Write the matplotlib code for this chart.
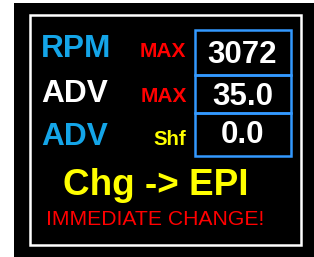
import matplotlib.pyplot as plt
from matplotlib.patches import Rectangle

# panel contents
labels = ["RPM", "ADV", "ADV"]
label_colors = ["#14a5e8", "#ffffff", "#14a5e8"]
tags = ["MAX", "MAX", "Shf"]
tag_colors = ["#ff0000", "#ff0000", "#ffff00"]
values = ["3072", "35.0", "0.0"]
status = "Chg -> EPI"
message = "IMMEDIATE CHANGE!"

plt.rcParams['font.family'] = ['Liberation Sans', 'DejaVu Sans']

fig = plt.figure(figsize=(3.14, 2.57), dpi=100)
ax = fig.add_axes([0, 0, 1, 1])
ax.set_xlim(0, 314)
ax.set_ylim(257, 0)
ax.axis('off')

# background and white frame
ax.add_patch(Rectangle((14, 3), 300, 254, facecolor='black', edgecolor='none'))
ax.add_patch(Rectangle((30, 15), 271, 230, facecolor='none', edgecolor='white', lw=1.8))

# value boxes
rows = [(30, 75), (75, 113), (113, 156)]
for top, bot in rows:
    ax.add_patch(Rectangle((195, top), 96, bot - top, facecolor='none',
                           edgecolor='#3399ff', lw=1.8))

label_base = [57, 102, 145]
tag_base = [57, 102, 145]
value_base = [63, 105, 143]
tag_x = [186, 187, 186]
tag_size = [15, 15, 14.6]
for i in range(3):
    ax.text(41, label_base[i], labels[i], color=label_colors[i], fontsize=22.8,
            fontweight='bold', ha='left', va='baseline')
    ax.text(tag_x[i], tag_base[i], tags[i], color=tag_colors[i], fontsize=tag_size[i],
            fontweight='bold', ha='right', va='baseline')
    ax.text(242.5, value_base[i], values[i], color='white',
            fontsize=22.5, fontweight='bold', ha='center', va='baseline')

ax.text(155.5, 195, status, color='#ffff00', fontsize=26.6, fontweight='bold',
        ha='center', va='baseline')
ax.text(155.5, 225, message, color='#ff0000', fontsize=15.2, ha='center', va='baseline')

fig.savefig("out.png", dpi=100, facecolor='white')
